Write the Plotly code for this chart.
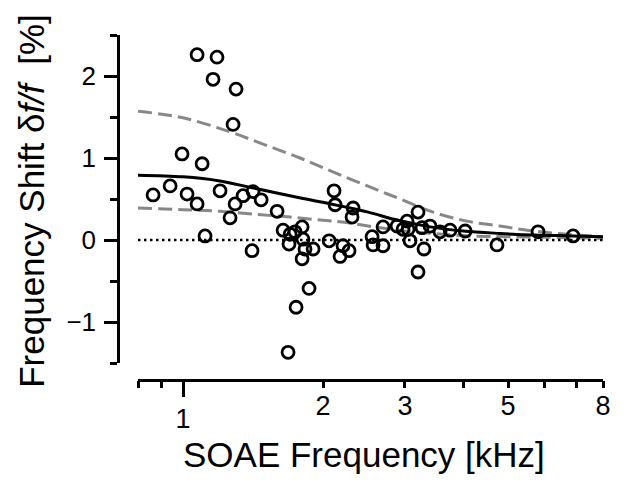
import math
import plotly.graph_objects as go

# ---- data ----
soae_freq = [0.862, 0.938, 0.995, 1.020, 1.072, 1.072, 1.099, 1.115, 1.160, 1.183,
             1.201, 1.262, 1.281, 1.300, 1.294, 1.346, 1.414, 1.407, 1.472, 1.593,
             1.641, 1.699, 1.690, 1.741, 1.803, 1.811, 1.829, 1.904, 1.803, 1.866,
             1.750, 1.682, 2.061, 2.112, 2.123, 2.176, 2.208, 2.275, 2.309, 2.321,
             2.550, 2.563, 2.692, 2.692, 2.886, 2.972, 3.032, 3.047, 3.077, 3.201,
             3.201, 3.265, 3.297, 3.397, 3.570, 3.752, 4.042, 4.733, 5.800, 6.899]
freq_shift = [0.55, 0.66, 1.05, 0.56, 0.44, 2.26, 0.93, 0.05, 1.96, 2.23,
              0.60, 0.27, 1.41, 1.84, 0.44, 0.54, 0.59, -0.13, 0.49, 0.35,
              0.12, 0.07, -0.05, 0.10, 0.16, 0.01, -0.11, -0.11, -0.23, -0.59,
              -0.82, -1.37, -0.01, 0.60, 0.43, -0.20, -0.07, -0.13, 0.28, 0.39,
              0.04, -0.06, -0.07, 0.16, 0.17, 0.13, 0.23, 0.13, -0.01, 0.34,
              -0.39, 0.15, -0.11, 0.17, 0.10, 0.12, 0.11, -0.06, 0.10, 0.05]

fit_freq = [0.8, 1.0, 1.2, 1.4, 1.6, 1.8, 2.0, 2.2, 2.5, 2.9, 3.4, 4.0, 4.8, 5.7, 6.9, 8.0]
fit_vals = [0.79, 0.77, 0.72, 0.64, 0.57, 0.51, 0.46, 0.41, 0.34, 0.24, 0.16, 0.11, 0.08, 0.06, 0.05, 0.04]

upper_freq = [0.8, 1.0, 1.26, 1.5, 1.785, 2.1, 2.49, 2.93, 3.45, 4.08, 4.8, 5.65, 6.7, 8.0]
upper_vals = [1.57, 1.49, 1.32, 1.16, 1.00, 0.83, 0.66, 0.50, 0.34, 0.23, 0.17, 0.11, 0.07, 0.04]

lower_freq = [0.8, 1.0, 1.2, 1.45, 1.7, 2.0, 2.2, 2.5, 2.9, 3.45, 4.1, 5.0, 6.5, 8.0]
lower_vals = [0.39, 0.37, 0.35, 0.31, 0.28, 0.24, 0.22, 0.17, 0.12, 0.08, 0.05, 0.04, 0.03, 0.02]

zero_freq = [0.8, 8.0]
zero_vals = [0.0, 0.0]

x_major_long = [1]
x_major_long_text = ["1"]
x_major = [2, 3, 5, 8]
x_major_text = ["2", "3", "5", "8"]
x_minor = [0.8, 0.9, 4, 6, 7]
y_major = [-1, 0, 1, 2]
y_major_text = ["\u22121", "0", "1", "2"]
y_minor = [-1.5, -0.5, 0.5, 1.5, 2.5]

FONT = "Liberation Sans, Arial, Helvetica, sans-serif"
x_range = [math.log10(0.8), math.log10(8)]

fig = go.Figure()
fig.add_trace(go.Scatter(x=upper_freq, y=upper_vals, mode="lines", line_shape="spline",
                         line=dict(color="#888888", width=3, dash="14px,6px"),
                         hoverinfo="skip", showlegend=False))
fig.add_trace(go.Scatter(x=lower_freq, y=lower_vals, mode="lines", line_shape="spline",
                         line=dict(color="#888888", width=3, dash="14px,6px"),
                         hoverinfo="skip", showlegend=False))
fig.add_trace(go.Scatter(x=fit_freq, y=fit_vals, mode="lines", line_shape="spline",
                         line=dict(color="black", width=3),
                         hoverinfo="skip", showlegend=False))
fig.add_trace(go.Scatter(x=zero_freq, y=zero_vals, mode="lines", xaxis="x2", yaxis="y",
                         line=dict(color="black", width=2.5, dash="2.5px,3.5px"),
                         hoverinfo="skip", showlegend=False))
fig.add_trace(go.Scatter(x=soae_freq, y=freq_shift, mode="markers",
                         marker=dict(symbol="circle-open", size=12, color="black",
                                     line=dict(width=2.8, color="black")),
                         cliponaxis=False, showlegend=False))

fig.update_layout(
    width=628, height=483,
    margin=dict(l=110, r=33, t=27, b=111, autoexpand=False),
    paper_bgcolor="white", plot_bgcolor="white",
    font=dict(family=FONT, color="black"),
    showlegend=False,
    xaxis=dict(type="log", range=x_range, domain=[20 / 485, 1],
               anchor="free", position=0, automargin=False,
               showline=True, linecolor="black", linewidth=2.5,
               showgrid=False, zeroline=False,
               tickmode="array", tickvals=x_major_long, ticktext=x_major_long_text,
               ticks="outside", ticklen=15, tickwidth=2.5, tickcolor="black",
               ticklabelstandoff=-1,
               tickfont=dict(size=27, family=FONT, color="black")),
    xaxis2=dict(type="log", range=x_range, domain=[20 / 485, 1],
                anchor="free", position=0, overlaying="x", side="bottom", automargin=False,
                showline=False, showgrid=False, zeroline=False,
                tickmode="array", tickvals=x_major, ticktext=x_major_text,
                ticks="outside", ticklen=7, tickwidth=2.5, tickcolor="black",
                ticklabelstandoff=-5,
                tickfont=dict(size=27, family=FONT, color="black"),
                minor=dict(tickmode="array", tickvals=x_minor, ticks="outside",
                           ticklen=7, tickwidth=2.5, tickcolor="black", showgrid=False)),
    yaxis=dict(range=[-1.5, 2.5], domain=[17 / 345, 1],
               anchor="free", position=0, automargin=False,
               showline=True, linecolor="black", linewidth=2.5,
               showgrid=False, zeroline=False,
               tickmode="array", tickvals=y_major, ticktext=y_major_text,
               ticks="outside", ticklen=13, tickwidth=2.5, tickcolor="black",
               ticklabelstandoff=3,
               tickfont=dict(size=26, family=FONT, color="black"),
               minor=dict(tickmode="array", tickvals=y_minor, ticks="outside",
                          ticklen=7, tickwidth=2.5, tickcolor="black", showgrid=False)),
)

fig.add_annotation(text="SOAE Frequency [kHz]", xref="paper", yref="paper",
                   x=0.507, y=-0.215, xanchor="center", yanchor="middle",
                   showarrow=False, font=dict(size=35, family=FONT, color="black"))
fig.add_annotation(text="Frequency Shift \u03b4<i>f/f</i>\u00a0\u00a0[%]", xref="paper", yref="paper",
                   x=-0.179, y=0.52, xanchor="center", yanchor="middle", textangle=-90,
                   showarrow=False, font=dict(size=35, family=FONT, color="black"))

fig.write_html("out.html")
